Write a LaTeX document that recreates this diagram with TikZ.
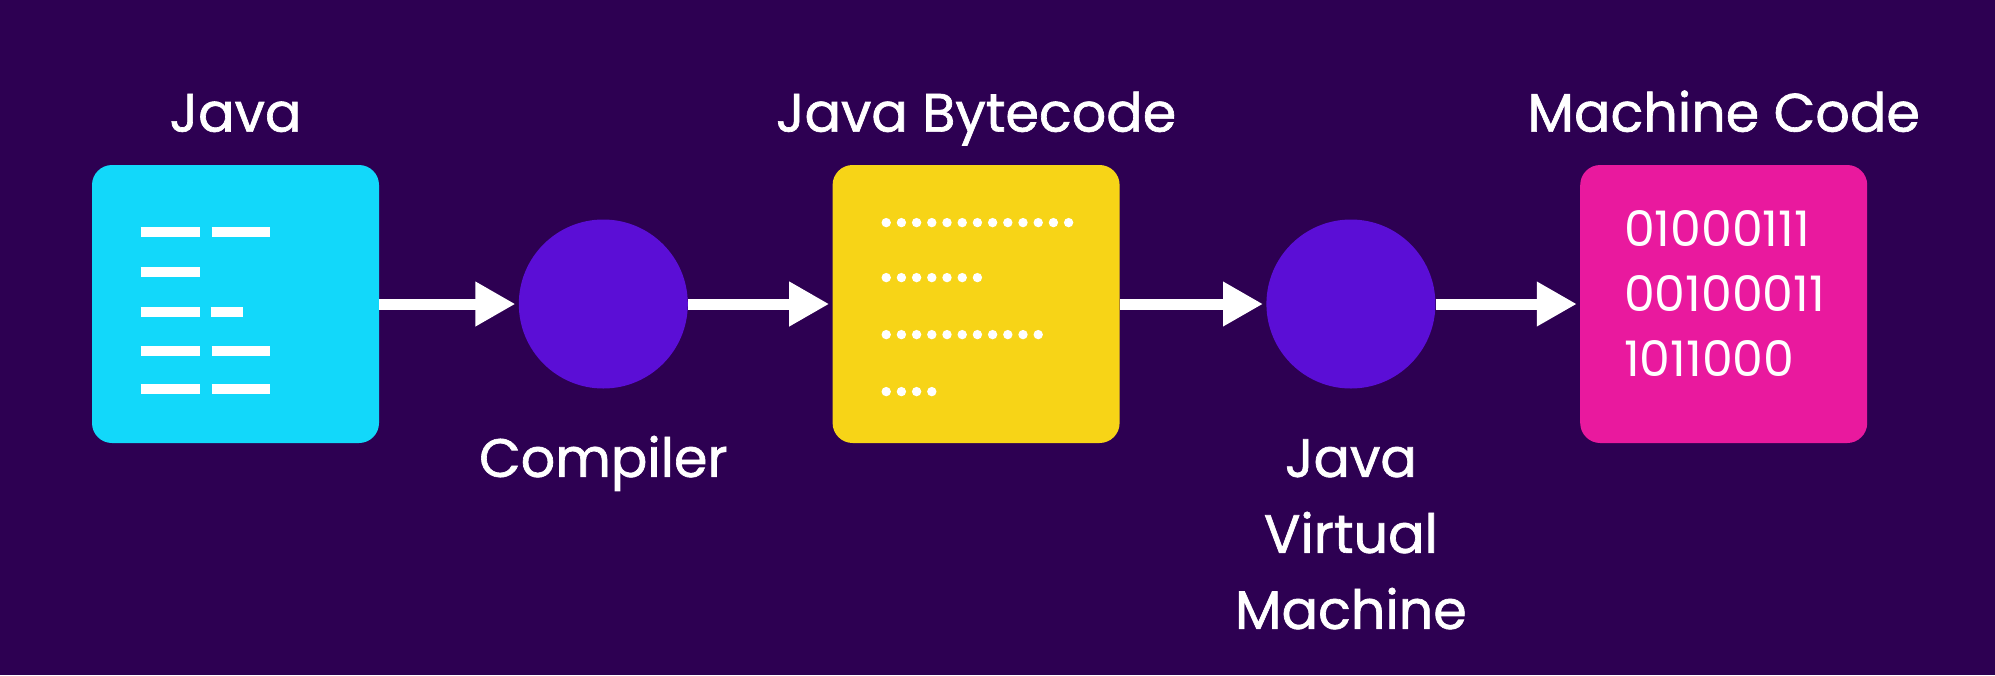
\documentclass[tikz,border=0pt]{standalone}
\usepackage{fontspec}
\setmainfont{Poppins}
\newfontfamily\ttlfont{Poppins}[FakeBold=1.2]
\usetikzlibrary{positioning,arrows.meta,calc}
\definecolor{bgpurple}{HTML}{2D0052}
\definecolor{javacyan}{HTML}{12D8FA}
\definecolor{bcyellow}{HTML}{F7D417}
\definecolor{mcpink}{HTML}{E9199E}
\definecolor{procviolet}{HTML}{5B0ED6}
\tikzstyle{srcbox}=[rectangle, rounded corners=10pt, minimum width=143.5pt,
                    minimum height=139pt, inner sep=0pt]
\tikzstyle{stepcirc}=[circle, fill=procviolet, minimum size=84.5pt, inner sep=0pt]
\tikzstyle{ttl}=[text=white, inner sep=0pt, font=\ttlfont\fontsize{27}{38}\selectfont]
\tikzstyle{bits}=[text=white, inner sep=0pt, align=left, font=\fontsize{24.5}{32.5}\selectfont]
\tikzstyle{parrow}=[-{Triangle[length=20pt,width=21pt]}, white, line width=5.5pt, shorten >=1.5pt]
\tikzstyle{cline}=[white, line width=5pt]
\tikzstyle{dotrow}=[white, line width=4.7pt, line cap=round, dash pattern=on 0pt off 7.6pt]

\begin{document}
\begin{tikzpicture}[node distance=72pt]

\fill[bgpurple] (0,0) rectangle (997.5pt,-337.5pt);

\node (JAVA) [srcbox, fill=javacyan] at (117.75pt,-152pt) {};
\node (COMP) [stepcirc, right=69.5pt of JAVA] {};
\node (JBC) [srcbox, fill=bcyellow, right=of COMP] {};
\node (JVM) [stepcirc, right=73pt of JBC] {};
\node (MCODE) [srcbox, fill=mcpink, right=of JVM] {};

\node (JAVALBL) [ttl, above=16.5pt of JAVA.north, anchor=base] {Java};
\node (JBCLBL) [ttl, above=16.5pt of JBC.north, anchor=base] {Java Bytecode};
\node (MCODELBL) [ttl, above=16.5pt of MCODE.north, anchor=base] {Machine Code};
\node (COMPLBL) [ttl, below=44pt of COMP.south, anchor=base] {Compiler};
% base = last line
\node (JVMLBL) [ttl, align=center, below=120pt of JVM.south, anchor=base] {Java\\Virtual\\Machine};

\node (MCBITS) [bits, anchor=base west] at ($(MCODE.north west)+(22pt,-106pt)$)
 {01000111\\00100011\\1011000};

% source lines
\draw[cline] ($(JAVA.north west)+(24.5pt,-33.5pt)$) -- ++(29.5pt,0);
\draw[cline] ($(JAVA.north west)+(60pt,-33.5pt)$) -- ++(29pt,0);
\draw[cline] ($(JAVA.north west)+(24.5pt,-53.5pt)$) -- ++(29.5pt,0);
\draw[cline] ($(JAVA.north west)+(24.5pt,-73.5pt)$) -- ++(29.5pt,0);
\draw[cline] ($(JAVA.north west)+(59.5pt,-73.5pt)$) -- ++(16pt,0);
\draw[cline] ($(JAVA.north west)+(24.5pt,-93pt)$) -- ++(29.5pt,0);
\draw[cline] ($(JAVA.north west)+(60pt,-93pt)$) -- ++(29pt,0);
\draw[cline] ($(JAVA.north west)+(24.5pt,-112pt)$) -- ++(29.5pt,0);
\draw[cline] ($(JAVA.north west)+(60pt,-112pt)$) -- ++(29pt,0);

% bytecode dots
\draw[dotrow] ($(JBC.north west)+(27pt,-29pt)$) -- ++(91.3pt,0);
\draw[dotrow] ($(JBC.north west)+(27pt,-56.5pt)$) -- ++(45.7pt,0);
\draw[dotrow] ($(JBC.north west)+(27pt,-85pt)$) -- ++(76.1pt,0);
\draw[dotrow] ($(JBC.north west)+(27pt,-113.5pt)$) -- ++(22.9pt,0);

 \draw[parrow] (JAVA.east) -- (COMP.west);
 \draw[parrow] (COMP.east) -- (JBC.west);
 \draw[parrow] (JBC.east) -- (JVM.west);
 \draw[parrow] (JVM.east) -- (MCODE.west);

\end{tikzpicture}
\end{document}
